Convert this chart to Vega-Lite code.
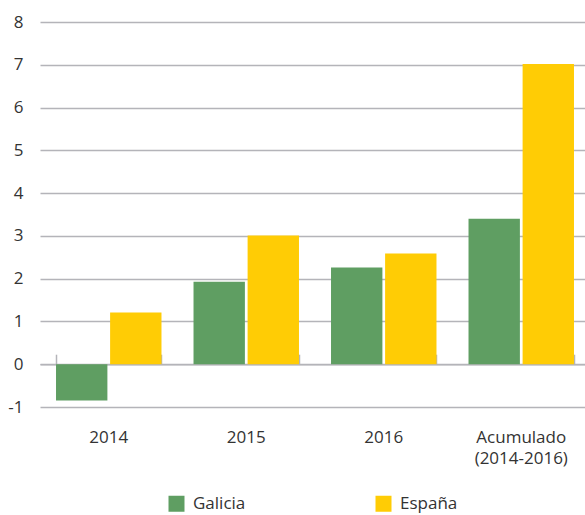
{
  "$schema": "https://vega.github.io/schema/vega-lite/v6.json",
  "width": 550,
  "height": 385,
  "autosize": {"type": "none"},
  "padding": {"left": 40, "top": 22, "right": 0, "bottom": 108},
  "config": {"view": {"stroke": null}, "font": "Open Sans"},
  "data": {
    "values": [
      {"periodo": "2014", "region": "Galicia", "valor": -0.85},
      {"periodo": "2014", "region": "España", "valor": 1.21},
      {"periodo": "2015", "region": "Galicia", "valor": 1.93},
      {"periodo": "2015", "region": "España", "valor": 3.01},
      {"periodo": "2016", "region": "Galicia", "valor": 2.26},
      {"periodo": "2016", "region": "España", "valor": 2.59},
      {"periodo": "Acumulado (2014-2016)", "region": "Galicia", "valor": 3.4},
      {"periodo": "Acumulado (2014-2016)", "region": "España", "valor": 7.02}
    ]
  },
  "layer": [
    {
      "mark": {"type": "bar"},
      "encoding": {
        "x": {
          "field": "periodo",
          "type": "nominal",
          "sort": ["2014", "2015", "2016", "Acumulado (2014-2016)"],
          "scale": {"paddingInner": 0.233, "paddingOuter": 0.1165},
          "axis": {
            "title": null,
            "domain": false,
            "ticks": false,
            "labelAngle": 0,
            "labelFontSize": 17,
            "labelColor": "#333333",
            "labelPadding": 22,
            "labelLineHeight": 21,
            "labelExpr": "datum.value == 'Acumulado (2014-2016)' ? ['Acumulado', '(2014-2016)'] : datum.value"
          }
        },
        "xOffset": {
          "field": "region",
          "type": "nominal",
          "sort": ["Galicia", "España"],
          "scale": {"paddingInner": 0.05}
        },
        "y": {
          "field": "valor",
          "type": "quantitative",
          "scale": {"domain": [-1, 8], "nice": false},
          "axis": {
            "title": null,
            "values": [-1, 0, 1, 2, 3, 4, 5, 6, 7, 8],
            "labelExpr": "toString(datum.value)",
            "domain": false,
            "ticks": false,
            "grid": true,
            "gridColor": "#b4b4b9",
            "gridWidth": 1.5,
            "labelFontSize": 17,
            "labelPadding": 17,
            "labelColor": "#333333"
          }
        },
        "color": {
          "field": "region",
          "type": "nominal",
          "scale": {"domain": ["Galicia", "España"], "range": ["#5f9e62", "#ffcc05"]},
          "legend": {
            "orient": "none",
            "legendX": 128,
            "legendY": 473,
            "direction": "horizontal",
            "title": null,
            "symbolType": "square",
            "symbolSize": 256,
            "symbolStrokeWidth": 0,
            "symbolOpacity": 1,
            "labelFontSize": 17,
            "labelColor": "#333333",
            "labelOffset": 8,
            "columnPadding": 129,
            "padding": 0
          }
        }
      }
    },
    {
      "mark": {"type": "point", "opacity": 0},
      "encoding": {
        "x": {
          "field": "periodo",
          "type": "nominal",
          "sort": ["2014", "2015", "2016", "Acumulado (2014-2016)"],
          "axis": {
            "orient": "top",
            "offset": -342.2,
            "labels": false,
            "title": null,
            "tickBand": "extent",
            "tickSize": 10,
            "tickColor": "#b4b4b9",
            "tickWidth": 1.5,
            "domainColor": "#b4b4b9",
            "domainWidth": 1.5,
            "grid": false
          }
        }
      }
    }
  ],
  "resolve": {"axis": {"x": "independent"}}
}
